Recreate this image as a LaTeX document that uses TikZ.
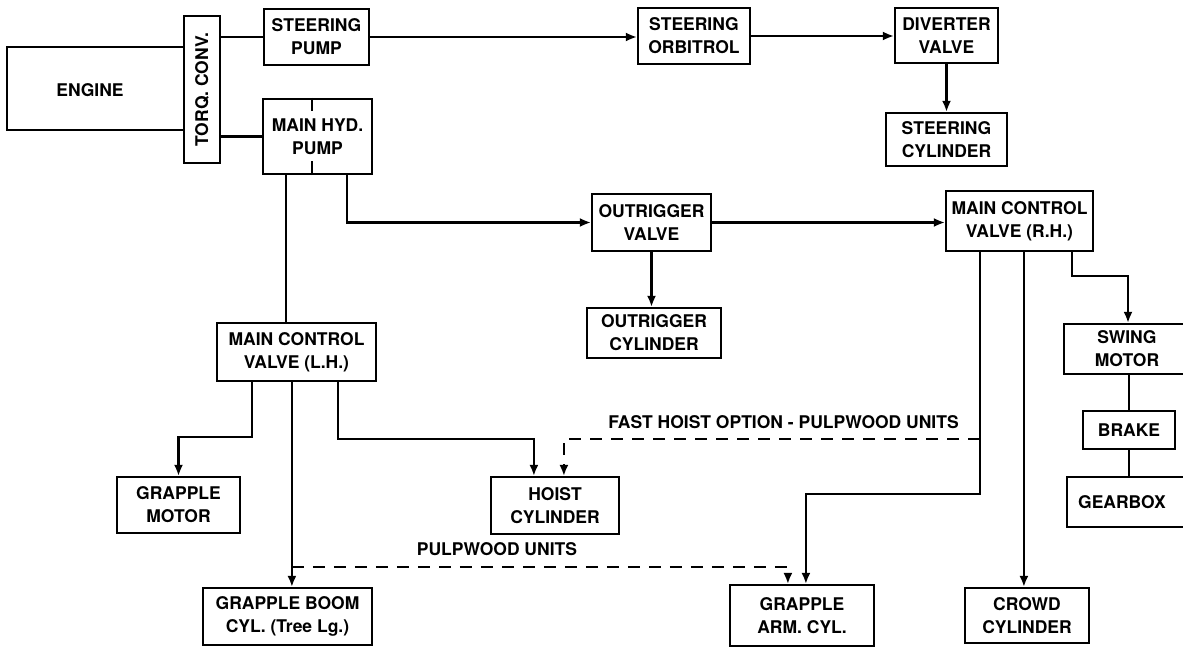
\documentclass[tikz,border=0pt]{standalone}
\usepackage{fontspec}
\setmainfont{TeX Gyre Heros}
\usetikzlibrary{calc,arrows.meta}
\begin{document}
\begin{tikzpicture}[x=1pt,y=-1pt,
  every node/.style={font=\fontsize{17.5}{23}\selectfont\bfseries},
  blk/.style={draw,line width=2.2pt,inner sep=0pt,align=center},
  ln/.style={line width=2.2pt},
  arr/.style={ln,-{Latex[length=11pt,width=9pt]}},
  dsh/.style={line width=2pt,dash pattern=on 12pt off 9pt},
  darr/.style={dsh,-{Latex[length=11pt,width=9pt]}},
  lbl/.style={inner sep=0pt,align=center}]
\clip (0,0) rectangle (1183,647);
\useasboundingbox (0,0) rectangle (1183,647);
% boxes
\node[blk,minimum width=177,minimum height=83] (engine) at (95.5,88.5) {};
\node[lbl] (enginetxt) at (90,90) {ENGINE};
\node[blk,minimum width=36,minimum height=147] (torq) at (202,89.5) {\rotatebox{90}{TORQ. CONV.}};
\node[blk,minimum width=105,minimum height=56] (spump) at (316.5,37) {STEERING\\PUMP};
\node[blk,minimum width=109,minimum height=75] (mpump) at (317.5,136.5) {MAIN HYD.\\PUMP};
\node[blk,minimum width=112,minimum height=56] (orbitrol) at (694,36) {STEERING\\ORBITROL};
\node[blk,minimum width=103,minimum height=55] (diverter) at (946.5,35.5) {DIVERTER\\VALVE};
\node[blk,minimum width=121,minimum height=53] (scyl) at (946.5,139.5) {STEERING\\CYLINDER};
\node[blk,minimum width=119,minimum height=57] (ovalve) at (651.5,222.5) {OUTRIGGER\\VALVE};
\node[blk,minimum width=134,minimum height=50] (ocyl) at (654,333) {OUTRIGGER\\CYLINDER};
\node[blk,minimum width=147,minimum height=60] (mcvr) at (1019.5,221) {MAIN CONTROL\\VALVE (R.H.)};
\node[blk,minimum width=128,minimum height=50] (swing) at (1128,349) {};
\node[lbl] (swingtxt) at (1127,349) {SWING\\MOTOR};
\node[blk,minimum width=92,minimum height=38] (brake) at (1129,430) {BRAKE};
\node[blk,minimum width=125,minimum height=50] (gearbox) at (1129.5,502) {};
\node[lbl] (gearboxtxt) at (1122,502) {GEARBOX};
\node[blk,minimum width=124,minimum height=55] (crowd) at (1027,615.5) {CROWD\\CYLINDER};
\node[blk,minimum width=159,minimum height=58] (mcvl) at (296.5,352) {MAIN CONTROL\\VALVE (L.H.)};
\node[blk,minimum width=123,minimum height=56] (gmotor) at (178.5,505) {GRAPPLE\\MOTOR};
\node[blk,minimum width=128,minimum height=57] (hoist) at (555,505.5) {HOIST\\CYLINDER};
\node[blk,minimum width=169,minimum height=57] (gboom) at (287.5,616.5) {GRAPPLE BOOM\\CYL. (Tree Lg.)};
\node[blk,minimum width=144,minimum height=61] (garm) at (802,615.5) {GRAPPLE\\ARM. CYL.};
% labels
\node[lbl,anchor=east] (fasthoist) at (959,422) {FAST HOIST OPTION - PULPWOOD UNITS};
\node[lbl] (pulpwood) at (497,549) {PULPWOOD UNITS};
% pump ticks
\draw[ln] ($(mpump.north west)+(50,0)$) -- ++(0,13);
\draw[ln] ($(mpump.south west)+(50,0)$) -- ++(0,-14);
% connectors
\draw[ln] (spump.west -| torq.east) -- (spump.west);
\draw[ln] (mpump.west -| torq.east) -- (mpump.west);
\draw[arr] (spump.east) -- (spump.east -| orbitrol.west);
\draw[arr] (orbitrol.east) -- (orbitrol.east -| diverter.west);
\draw[arr] (diverter.south) -- (scyl.north);
\coordinate (mpA) at ($(mpump.south west)+(85,0)$);
\draw[arr] (mpA) |- (ovalve.west);
\coordinate (mpB) at ($(mpump.south west)+(24,0)$);
\draw[ln] (mpB) -- (mpB |- mcvl.north);
\draw[arr] (ovalve.south) -- (ovalve.south |- ocyl.north);
\draw[arr] (ovalve.east) -- (ovalve.east -| mcvr.west);
\coordinate (mrA) at ($(mcvr.south west)+(127,0)$);
\draw[arr] (mrA) -- ++(0,24) -| (swing.north);
\coordinate (mrB) at ($(mcvr.south west)+(79,0)$);
\draw[arr] (mrB) -- (mrB |- crowd.north);
\coordinate (mrC) at ($(mcvr.south west)+(35,0)$);
\draw[arr] (mrC) -- ++(0,242) -| ($(garm.north west)+(77,0)$);
\coordinate (mrD) at ($(mcvr.south west)+(35,187)$);
\draw[darr] (mrD) -| ($(hoist.north west)+(74,0)$);
\draw[ln] (swing.south -| brake.north) -- (brake.north);
\draw[ln] (brake.south) -- (brake.south |- gearbox.north);
\coordinate (mlA) at ($(mcvl.south west)+(36,0)$);
\draw[arr] (mlA) -- ++(0,55) -| (gmotor.north);
\coordinate (mlB) at ($(mcvl.south west)+(76,0)$);
\draw[arr] (mlB) -- (mlB |- gboom.north);
\coordinate (mlC) at ($(mcvl.south west)+(122,0)$);
\draw[arr] (mlC) -- ++(0,57) -| ($(hoist.north west)+(44,0)$);
\coordinate (mlD) at ($(mcvl.south west)+(76,185)$);
\draw[darr] (mlD) -| ($(garm.north west)+(59,0)$);
\end{tikzpicture}
\end{document}
